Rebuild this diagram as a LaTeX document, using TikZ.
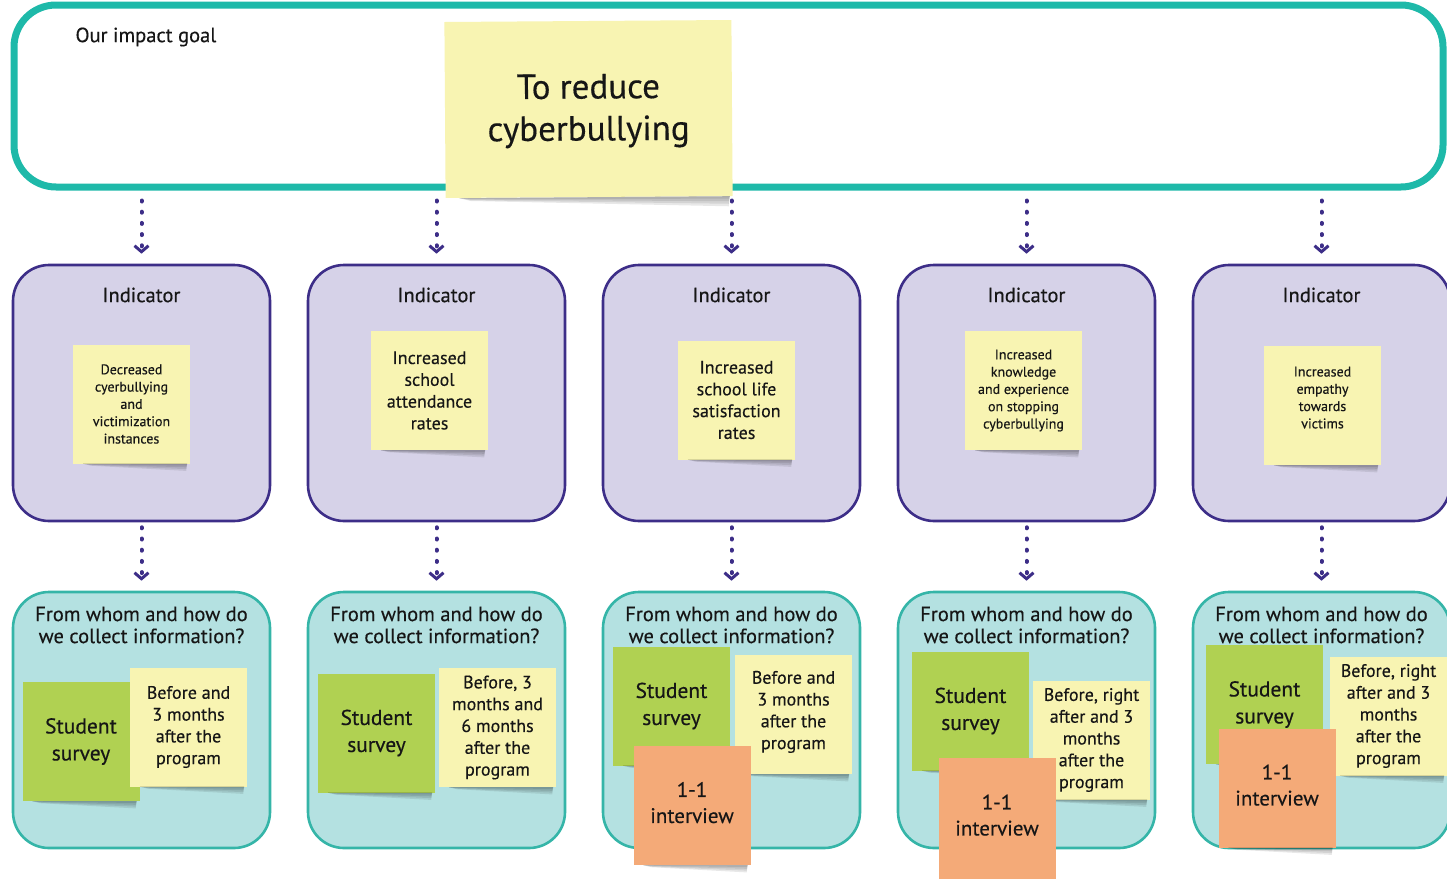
\documentclass[tikz,border=0pt]{standalone}
\usepackage{fontspec}
\setmainfont{PT Sans}[FakeBold=0.35]
\usetikzlibrary{arrows.meta,calc}

\definecolor{goalteal}{HTML}{1EB9A9}
\definecolor{lavfill}{HTML}{D6D2E8}
\definecolor{purpleline}{HTML}{3D2E88}
\definecolor{howfill}{HTML}{B4E1E1}
\definecolor{howline}{HTML}{35B5A8}
\definecolor{noteyellow}{HTML}{F8F4B2}
\definecolor{notegreen}{HTML}{B0D152}
\definecolor{noteorange}{HTML}{F4AA78}
\definecolor{arrowpurple}{HTML}{3D2E88}
\definecolor{textdark}{HTML}{161616}

% soft shadow under the lower edge of a sticky note
\newcommand\stickyshadow[2][1]{%
  \foreach \k in {1,...,4}{
    \fill[black, opacity=0.09]
      ([shift={(10*#1,0)}]#2.south west) --
      ([shift={(-3,0)}]#2.south east) --
      ([shift={(-4,1.8*\k*#1)}]#2.south east) --
      ([shift={(18*#1,0.5*\k*#1)}]#2.south west) -- cycle;
  }
}

\tikzset{
  goalbox/.style={draw=goalteal, line width=7pt, rounded corners=42pt,
    minimum width=1429pt, minimum height=182pt, fill=white},
  indbox/.style={draw=purpleline, line width=2.6pt, fill=lavfill,
    rounded corners=36pt, minimum width=257pt, minimum height=256pt},
  howbox/.style={draw=howline, line width=2.6pt, fill=howfill,
    rounded corners=36pt, minimum width=257pt, minimum height=256pt},
  sticky/.style={inner sep=0pt, minimum width=117pt, minimum height=119pt,
    align=center, text=textdark},
  ynote/.style={sticky, fill=noteyellow},
  gnote/.style={sticky, fill=notegreen, font=\fontsize{21.5}{27}\selectfont},
  onote/.style={sticky, fill=noteorange, font=\fontsize{21}{26}\selectfont},
  smalltxt/.style={font=\fontsize{14}{17.3}\selectfont},
  midtxt/.style={font=\fontsize{18}{21.8}\selectfont},
  headtxt/.style={font=\fontsize{20.5}{22}\selectfont, text=textdark, align=center},
  flow/.style={draw=arrowpurple, line width=4pt, line cap=round,
    dash pattern=on 1pt off 10.2pt,
    -{Straight Barb[length=6pt,width=14pt,line width=3pt]}},
}

\begin{document}
\begin{tikzpicture}[x=1pt,y=-1pt]
\useasboundingbox (0,0) rectangle (1447,878);
\clip (0,0) rectangle (1447,878);

% impact goal frame
\node[goalbox] (goal) at (728.5,96) {};
\node[headtxt, anchor=west] (goallabel) at (72,37) {Our impact goal};
\node[sticky, fill=noteyellow, minimum width=287pt, minimum height=176pt,
  rotate=0.4] (goalnote) at (588.5,109) {};
\stickyshadow[1.4]{goalnote}
\node[align=center, text=textdark, font=\fontsize{35}{42}\selectfont, rotate=0.4]
  (goaltext) at (588.5,111) {To reduce\\cyberbullying};

% column frames and headings
\foreach \i in {1,...,5} {
  \pgfmathsetmacro\cx{141.5+295*(\i-1)}
  \node[indbox] (ind\i) at (\cx,393) {};
  \node[headtxt] (indt\i) at (\cx,295) {Indicator};
  \node[howbox] (how\i) at (\cx,720) {};
  \node[headtxt] (howt\i) at (\cx,625) {From whom and how do\\we collect information?};
}

% indicators
\node[ynote, smalltxt] (i1) at (131.5,404) {Decreased\\cyerbullying\\and\\victimization\\instances};
\stickyshadow{i1}
\node[ynote, midtxt] (i2) at (429.5,390.5) {Increased\\school\\attendance\\rates};
\stickyshadow{i2}
\node[ynote, midtxt] (i3) at (736.5,400) {Increased\\school life\\satisfaction\\rates};
\stickyshadow{i3}
\node[ynote, smalltxt] (i4) at (1023.5,390.5) {Increased\\knowledge\\and experience\\on stopping\\cyberbullying};
\stickyshadow{i4}
\node[ynote, smalltxt] (i5) at (1322.5,405.5) {Increased\\empathy\\towards\\victims\\[-1.3pt]};
\stickyshadow{i5}

% dotted connectors
\foreach \i in {1,...,5} {
  \draw[flow, shorten <=10pt, shorten >=10pt] (ind\i.north |- goal.south) -- (ind\i.north);
  \draw[flow, shorten <=5pt, shorten >=10pt] (ind\i.south) -- (how\i.north);
}

% data collection: column 1
\node[gnote] (s1) at (81,741.5) {Student\\survey};
\stickyshadow{s1}
\node[ynote, midtxt] (t1) at (188.5,727) {Before and\\3 months\\after the\\program};
\stickyshadow{t1}

% column 2
\node[gnote] (s2) at (376.5,733) {Student\\survey};
\stickyshadow{s2}
\node[ynote, midtxt] (t2) at (497.5,727.5) {Before, 3\\months and\\6 months\\after the\\program};
\stickyshadow{t2}

% column 3
\node[gnote] (s3) at (671.5,706) {Student\\survey};
\stickyshadow{s3}
\node[ynote, midtxt] (t3) at (793.5,714.5) {Before and\\3 months\\after the\\program\\[-12.8pt]};
\stickyshadow{t3}
\node[onote] (o3) at (692,805.5) {1-1\\interview\\[-20pt]};
\stickyshadow{o3}

% column 4
\node[gnote] (s4) at (970.5,711) {Student\\survey};
\stickyshadow{s4}
\node[ynote, midtxt] (t4) at (1091.5,740) {Before, right\\after and 3\\months\\after the\\program};
\stickyshadow{t4}
\node[onote, minimum height=122pt] (o4) at (997,819) {1-1\\interview\\[-18pt]};

% column 5
\node[gnote] (s5) at (1264.5,704.5) {Student\\survey};
\stickyshadow{s5}
\node[ynote, midtxt] (t5) at (1388.5,716) {Before, right\\after and 3\\months\\after the\\program};
\stickyshadow{t5}
\node[onote] (o5) at (1277,788) {1-1\\interview\\[-20pt]};
\stickyshadow{o5}
\end{tikzpicture}
\end{document}
